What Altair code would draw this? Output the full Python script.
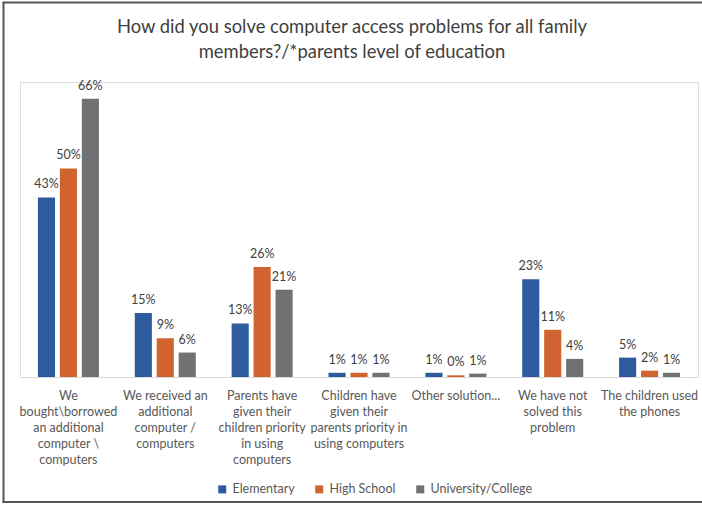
import altair as alt
import pandas as pd

categories = [
    "We|bought\\borrowed|an additional|computer \\|computers",
    "We received an|additional|computer /|computers",
    "Parents have|given their|children priority|in using|computers",
    "Children have|given their|parents priority in|using computers",
    "Other solution...",
    "We have not|solved this|problem",
    "The children used|the phones",
]
series = ["Elementary", "High School", "University/College"]
elementary = [42.6, 15.2, 12.7, 1.0, 1.0, 23.2, 4.6]
high_school = [49.5, 9.2, 26.1, 1.0, 0.4, 11.2, 1.5]
university = [66.0, 5.8, 20.7, 1.0, 0.8, 4.3, 1.0]
colors = ["#2D5B9E", "#D06330", "#6F7173"]

rows = []
for i, c in enumerate(categories):
    for s, vals in zip(series, [elementary, high_school, university]):
        rows.append({"category": c, "series": s, "value": vals[i]})
df = pd.DataFrame(rows)

FONT = "Lato"
W, H = 678, 295

x_enc = alt.X(
    "category:N",
    sort=categories,
    scale=alt.Scale(paddingInner=0.37, paddingOuter=0.185),
    axis=alt.Axis(
        title=None,
        labelExpr="split(datum.label, '|')",
        labelAngle=0,
        labelFont=FONT,
        labelFontSize=12.5,
        labelColor="#595959",
        labelLineHeight=16,
        labelPadding=12,
        labelBaseline="top",
        ticks=False,
        domainColor="#D9D9D9",
        domainWidth=1,
        labelLimit=200,
    ),
)
xoff = alt.XOffset(
    "series:N",
    sort=series,
    scale=alt.Scale(paddingInner=0.22, paddingOuter=0.0),
)
y_enc = alt.Y(
    "value:Q",
    scale=alt.Scale(domain=[0, 70], nice=False),
    axis=None,
)

base = alt.Chart(df)

bars = base.mark_bar().encode(
    x=x_enc,
    xOffset=xoff,
    y=y_enc,
    color=alt.Color(
        "series:N",
        sort=series,
        scale=alt.Scale(domain=series, range=colors),
        legend=alt.Legend(
            title=None,
            orient="none",
            legendX=196,
            legendY=401,
            direction="horizontal",
            symbolType="square",
            symbolSize=64,
            symbolStrokeWidth=0,
            labelFont=FONT,
            labelFontSize=12.5,
            labelColor="#595959",
            columnPadding=18,
        ),
    ),
)

labels = base.transform_calculate(
    lbl="format(round(datum.value), 'd') + '%'"
).mark_text(
    font=FONT, fontSize=12.5, color="#404040", baseline="alphabetic", dy=-9
).encode(
    x=alt.X("category:N", sort=categories),
    xOffset=alt.XOffset("series:N", sort=series),
    y=alt.Y("value:Q"),
    text="lbl:N",
)

frame_data = alt.Data(values=[{"k": 1}])
left_border = alt.Chart(frame_data).mark_rule(color="#555555", strokeWidth=2).encode(
    x=alt.value(-16.5), y=alt.value(-80), y2=alt.value(H + 126)
)
top_border = alt.Chart(frame_data).mark_rule(color="#555555", strokeWidth=2).encode(
    x=alt.value(-17.5), x2=alt.value(W + 4), y=alt.value(-79.5)
)
bottom_border = alt.Chart(frame_data).mark_rule(color="#555555", strokeWidth=2).encode(
    x=alt.value(-17.5), x2=alt.value(W + 4), y=alt.value(H + 125)
)

chart = (
    alt.layer(bars, labels, left_border, top_border, bottom_border)
    .properties(
        width=W,
        height=H,
        title=alt.TitleParams(
            text=["How did you solve computer access problems for all family",
                  "members?/*parents level of education"],
            font=FONT,
            fontSize=18.4,
            fontWeight="normal",
            color="#404040",
            lineHeight=25,
            anchor="middle",
            dx=-7,
            dy=60,
            offset=0,
        ),
        autosize=alt.AutoSizeParams(type="none"),
        padding={"left": 20, "top": 82, "right": 4, "bottom": 126},
    )
    .configure_view(strokeWidth=0, stroke="transparent")
    .configure(background="white")
)

chart.save("out.html", embed_options={"renderer": "svg", "actions": False})
